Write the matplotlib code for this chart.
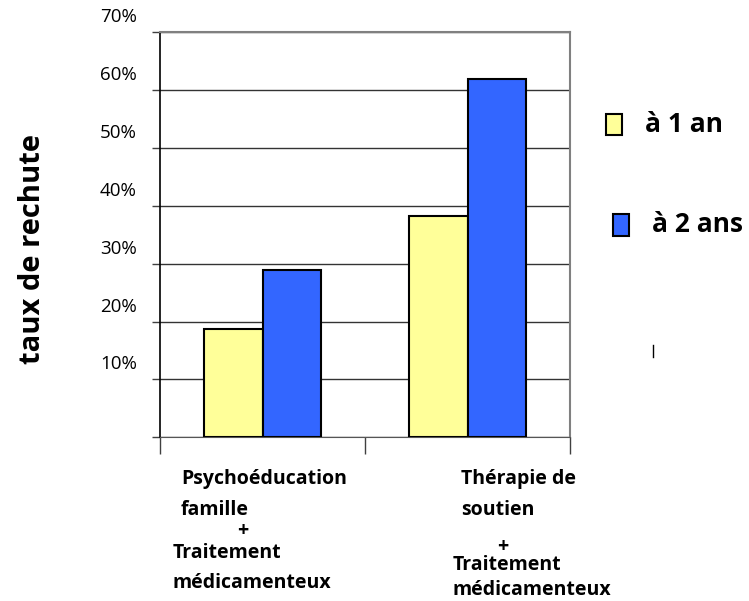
import matplotlib.pyplot as plt
from matplotlib.patches import Rectangle
from matplotlib.lines import Line2D
from matplotlib.transforms import offset_copy

plt.rcParams['font.family'] = ['Open Sans', 'DejaVu Sans']

# taux de rechute (%) par groupe
groupes = ["Psychoéducation famille + Traitement médicamenteux",
           "Thérapie de soutien + Traitement médicamenteux"]
a_1_an = [18.7, 38.3]
a_2_ans = [28.9, 62.0]
series = ["à 1 an", "à 2 ans"]
yticks = [0, 10, 20, 30, 40, 50, 60, 70]
ytick_labels = ["", "10%", "20%", "30%", "40%", "50%", "60%", "70%"]

jaune = "#FFFF99"
bleu = "#3366FF"

fig = plt.figure(figsize=(7.49, 6.01), dpi=100)
ax = fig.add_axes([160 / 749, 1 - 437.3 / 601, 410 / 749, 405 / 601])

x = list(range(len(groupes)))
w = 0.285
ax.bar([i - w / 2 for i in x], a_1_an, width=w, color=jaune, edgecolor="black", linewidth=1.5, zorder=3)
ax.bar([i + w / 2 for i in x], a_2_ans, width=w, color=bleu, edgecolor="black", linewidth=1.5, zorder=3)

ax.set_xlim(-0.5, 1.5)
ax.set_ylim(0, 70)
ax.set_yticks(yticks)
ax.set_yticklabels([])
ax.tick_params(axis="y", length=6, width=1, color="#404040")
ax.set_xticks([-0.5, 0.5, 1.5])
ax.set_xticklabels([])
ax.tick_params(axis="x", length=12.5, width=1, color="#404040")
ax.yaxis.grid(True, color="#333333", linewidth=1)
ax.set_axisbelow(True)

ax.spines["left"].set_color("black")
ax.spines["left"].set_linewidth(1.2)
ax.spines["bottom"].set_color("#555555")
ax.spines["top"].set_color("#808080")
ax.spines["right"].set_color("#808080")
ax.spines["top"].set_linewidth(1.5)
ax.spines["right"].set_linewidth(1.5)

# libellés de l'axe y décalés au-dessus des lignes
lab_tr = offset_copy(ax.get_yaxis_transform(), fig=fig, x=-23, y=15, units="dots")
for v, s in zip(yticks, ytick_labels):
    if s:
        ax.text(0, v, s, transform=lab_tr, ha="right", va="center", fontsize=13.5, color="black")

ax.text(33 / 749, 1 - 249 / 601, "taux de rechute", transform=fig.transFigure, rotation=90,
        ha="center", va="center", fontsize=21, fontweight="bold")

# libellés des catégories
def ftext(px, py, s, **kw):
    fig.text(px / 749, 1 - py / 601, s, va="center", fontsize=14, fontweight="bold", **kw)

ftext(181, 479, "Psychoéducation")
ftext(181, 510, "famille")
ftext(243, 531, "+", ha="center")
ftext(173, 553, "Traitement")
ftext(173, 583, "médicamenteux")

ftext(461, 479, "Thérapie de")
ftext(461, 510, "soutien")
ftext(503, 547, "+", ha="center")
ftext(453, 565, "Traitement")
ftext(453, 590, "médicamenteux")

# légende
fig.patches.append(Rectangle((606 / 749, 1 - 135 / 601), 16 / 749, 21 / 601, transform=fig.transFigure,
                             facecolor=jaune, edgecolor="black", linewidth=1.5))
fig.patches.append(Rectangle((613 / 749, 1 - 236 / 601), 16 / 749, 22 / 601, transform=fig.transFigure,
                             facecolor=bleu, edgecolor="black", linewidth=1.5))
fig.text(645 / 749, 1 - 125 / 601, series[0], va="center", fontsize=19, fontweight="bold")
fig.text(652 / 749, 1 - 224 / 601, series[1], va="center", fontsize=19, fontweight="bold")

fig.lines.append(Line2D([653 / 749, 653 / 749], [1 - 345 / 601, 1 - 357 / 601], transform=fig.transFigure,
                        color="black", linewidth=1))

fig.savefig("out.png", dpi=100)
